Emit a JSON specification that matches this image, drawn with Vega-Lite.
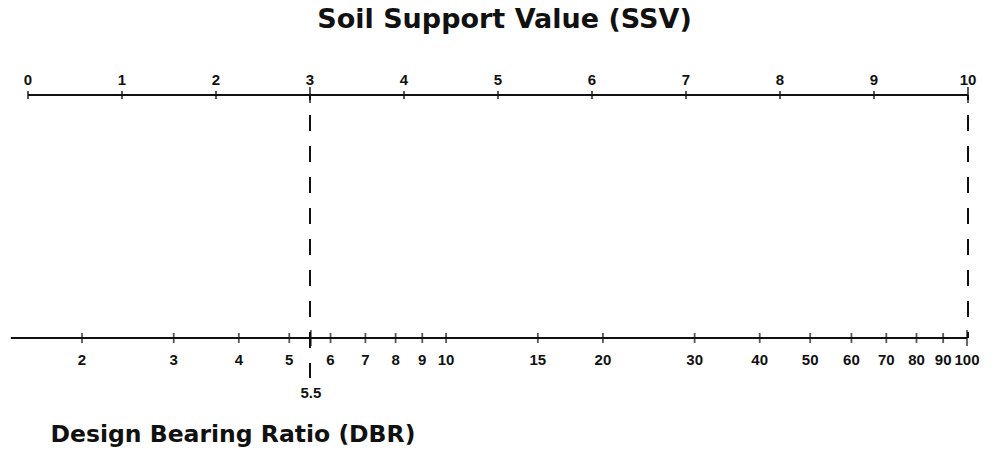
{
  "$schema": "https://vega.github.io/schema/vega-lite/v6.json",
  "width": 997,
  "height": 243,
  "autosize": "none",
  "padding": {"left": 0, "right": 0, "top": 95, "bottom": 117},
  "background": "white",
  "config": {"view": {"stroke": null}},
  "datasets": {
    "ssvLine": [{"v": 0, "v2": 10}],
    "ssvTicks": [{"v": 0}, {"v": 1}, {"v": 2}, {"v": 3}, {"v": 4}, {"v": 5}, {"v": 6}, {"v": 7}, {"v": 8}, {"v": 9}, {"v": 10}],
    "dashed": [{"v": 3, "top": 1, "bottom": -0.165}, {"v": 10, "top": 1, "bottom": 0}],
    "dbrLine": [{"v": 1.46, "v2": 100}],
    "dbrTicks": [{"v": 2}, {"v": 3}, {"v": 4}, {"v": 5}, {"v": 5.5}, {"v": 6}, {"v": 7}, {"v": 8}, {"v": 9}, {"v": 10}, {"v": 15}, {"v": 20}, {"v": 30}, {"v": 40}, {"v": 50}, {"v": 60}, {"v": 70}, {"v": 80}, {"v": 90}, {"v": 100}]
  },
  "layer": [
    {
      "encoding": {
        "x": {
          "field": "v", "type": "quantitative",
          "scale": {"type": "linear", "domain": [0, 10], "range": [28, 968]},
          "axis": {
            "orient": "top", "domain": false, "ticks": false, "labels": false, "grid": false,
            "title": "Soil Support Value (SSV)",
            "titleFont": "DejaVu Sans", "titleFontSize": 27, "titleFontWeight": "bold", "titleColor": "#111",
            "titleX": 504, "titleY": -68, "titleAlign": "center", "titleBaseline": "alphabetic"
          }
        }
      },
      "layer": [
        {
          "data": {"name": "ssvLine"},
          "mark": {"type": "rule", "strokeWidth": 2, "color": "#111"},
          "encoding": {
            "x2": {"field": "v2"},
            "y": {"datum": 1, "type": "quantitative", "scale": {"domain": [0, 1]}, "axis": null}
          }
        },
        {
          "data": {"name": "dashed"},
          "mark": {"type": "rule", "strokeWidth": 2, "color": "#111", "strokeDash": [16, 15], "strokeDashOffset": 11},
          "encoding": {
            "y": {"field": "top", "type": "quantitative", "scale": {"domain": [0, 1]}, "axis": null},
            "y2": {"field": "bottom"}
          }
        },
        {
          "data": {"name": "ssvTicks"},
          "mark": {"type": "tick", "orient": "vertical", "thickness": 2, "color": "#111"},
          "encoding": {
            "y": {"datum": 1, "type": "quantitative", "scale": {"domain": [0, 1]}, "axis": null},
            "size": {"condition": {"test": "datum.v == 3 || datum.v == 10", "value": 16}, "value": 8}
          }
        },
        {
          "data": {"name": "ssvTicks"},
          "mark": {"type": "text", "font": "Liberation Sans Narrow, Liberation Sans, sans-serif", "fontSize": 15, "fontWeight": "bold", "color": "#111", "align": "center", "baseline": "alphabetic", "dy": -10},
          "encoding": {
            "y": {"datum": 1, "type": "quantitative", "scale": {"domain": [0, 1]}, "axis": null},
            "text": {"field": "v", "type": "quantitative"}
          }
        }
      ]
    },
    {
      "encoding": {
        "x": {
          "field": "v", "type": "quantitative",
          "scale": {"type": "log", "domain": [2, 100], "range": [82, 967]},
          "axis": {
            "orient": "bottom", "domain": false, "ticks": false, "labels": false, "grid": false,
            "title": "Design Bearing Ratio (DBR)",
            "titleFont": "DejaVu Sans", "titleFontSize": 23.5, "titleFontWeight": "bold", "titleColor": "#111",
            "titleX": 50, "titleY": 103, "titleAlign": "left", "titleBaseline": "alphabetic"
          }
        }
      },
      "layer": [
        {
          "data": {"name": "dbrLine"},
          "mark": {"type": "rule", "strokeWidth": 2, "color": "#111"},
          "encoding": {
            "x2": {"field": "v2"},
            "y": {"datum": 0, "type": "quantitative", "scale": {"domain": [0, 1]}, "axis": null}
          }
        },
        {
          "data": {"name": "dbrTicks"},
          "mark": {"type": "tick", "orient": "vertical", "thickness": 1.8, "color": "#111"},
          "encoding": {
            "y": {"datum": 0, "type": "quantitative", "scale": {"domain": [0, 1]}, "axis": null},
            "size": {"condition": {"test": "datum.v == 5.5 || datum.v == 100", "value": 16}, "value": 10}
          }
        },
        {
          "data": {"name": "dbrTicks"},
          "transform": [{"filter": "datum.v != 5.5"}],
          "mark": {"type": "text", "font": "Liberation Sans Narrow, Liberation Sans, sans-serif", "fontSize": 15, "fontWeight": "bold", "color": "#111", "align": "center", "baseline": "alphabetic", "dy": 27},
          "encoding": {
            "y": {"datum": 0, "type": "quantitative", "scale": {"domain": [0, 1]}, "axis": null},
            "text": {"field": "v", "type": "quantitative"}
          }
        },
        {
          "data": {"name": "dbrTicks"},
          "transform": [{"filter": "datum.v == 5.5"}],
          "mark": {"type": "text", "font": "Liberation Sans Narrow, Liberation Sans, sans-serif", "fontSize": 15, "fontWeight": "bold", "color": "#111", "align": "center", "baseline": "alphabetic", "dy": 60},
          "encoding": {
            "y": {"datum": 0, "type": "quantitative", "scale": {"domain": [0, 1]}, "axis": null},
            "text": {"field": "v", "type": "quantitative", "format": ".1f"}
          }
        }
      ]
    }
  ],
  "resolve": {"scale": {"x": "independent"}, "axis": {"x": "independent"}}
}
